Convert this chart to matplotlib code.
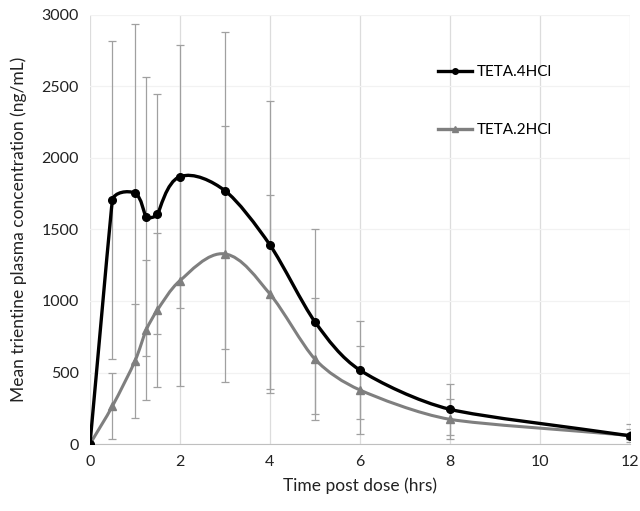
import numpy as np
import matplotlib
matplotlib.use("Agg")
import matplotlib.pyplot as plt
from matplotlib.path import Path
from matplotlib.patches import PathPatch
from matplotlib.lines import Line2D

plt.rcParams['font.family'] = ['Lato', 'DejaVu Sans']

time = [0, 0.5, 1, 1.25, 1.5, 2, 3, 4, 5, 6, 8, 12]
teta4 = [0, 1706, 1753, 1590, 1606, 1869, 1771, 1392, 855, 517, 243, 58]
teta4_sd = [0, 1110, 1184, 973, 840, 919, 1108, 1007, 648, 345, 180, 80]
teta2 = [0, 266, 580, 797, 937, 1142, 1329, 1049, 594, 378, 173, 60]
teta2_sd = [0, 230, 400, 490, 536, 736, 893, 690, 426, 309, 140, 45]


def smooth_path(ax, x, y):
    # smoothed line like excel: bezier segments, worked out in screen space
    pts = ax.transData.transform(np.column_stack([x, y]))
    n = len(pts)
    seglen = np.linalg.norm(np.diff(pts, axis=0), axis=1)
    verts = [pts[0]]
    codes = [Path.MOVETO]
    for i in range(n - 1):
        a = pts[i]
        b = pts[i + 1]
        seg = seglen[i]
        if i > 0:
            t0 = pts[i + 1] - pts[i - 1]
            d0 = min(seg, seglen[i - 1]) / 3
        else:
            t0 = b - a
            d0 = seg / 3
        if i + 2 < n:
            t1 = pts[i + 2] - pts[i]
            d1 = min(seg, seglen[i + 1]) / 3
        else:
            t1 = b - a
            d1 = seg / 3
        t0 = t0 / np.linalg.norm(t0)
        t1 = t1 / np.linalg.norm(t1)
        verts += [a + t0 * d0, b - t1 * d1, b]
        codes += [Path.CURVE4] * 3
    verts = ax.transData.inverted().transform(np.array(verts))
    return Path(verts, codes)


fig = plt.figure(figsize=(6.4, 5.11), dpi=100)
ax = fig.add_axes([0.1406, 0.131, 0.8434, 0.8400])
ax.set_xlim(0, 12)
ax.set_ylim(0, 3000)

# error bars
ax.errorbar(time[1:], teta4[1:], yerr=teta4_sd[1:], fmt='none', ecolor='#a0a0a0',
            elinewidth=0.9, capsize=3, capthick=0.9, zorder=2)
ax.errorbar(time[1:], teta2[1:], yerr=teta2_sd[1:], fmt='none', ecolor='#a0a0a0',
            elinewidth=0.9, capsize=3, capthick=0.9, zorder=2)

ax.add_patch(PathPatch(smooth_path(ax, time, teta2), fill=False, edgecolor='#7f7f7f', lw=2.2, zorder=3))
ax.plot(time, teta2, ls='none', marker='^', ms=6, color='#7f7f7f', zorder=4)
ax.add_patch(PathPatch(smooth_path(ax, time, teta4), fill=False, edgecolor='black', lw=2.4, zorder=5))
ax.plot(time, teta4, ls='none', marker='o', ms=5.5, color='black', zorder=6)

ax.set_xticks(range(0, 13, 2))
ax.set_yticks(range(0, 3001, 500))
ax.grid(axis='x', color='#dcdcdc', lw=0.9)
ax.grid(axis='y', color='#f2f2f2', lw=0.9)
ax.set_axisbelow(True)
for s in ['top', 'right', 'left']:
    ax.spines[s].set_visible(False)
ax.spines['bottom'].set_color('#bfbfbf')
ax.tick_params(length=0, labelsize=11.5, pad=8, colors='#222222')

ax.set_xlabel('Time post dose (hrs)', fontsize=12.5, color='#222222', labelpad=6)
ax.set_ylabel('Mean trientine plasma concentration (ng/mL)', fontsize=12.5, color='#222222', labelpad=10)

handles = [Line2D([], [], color='black', lw=2.4, marker='o', ms=4),
           Line2D([], [], color='#7f7f7f', lw=2.4, marker='^', ms=5)]
ax.legend(handles, ['TETA.4HCl', 'TETA.2HCl'], loc='upper left', bbox_to_anchor=(0.62, 0.915),
          frameon=False, fontsize=11, handlelength=2.2, handletextpad=0.3, labelspacing=2.9)

fig.savefig('out.png', dpi=100, facecolor='white')
